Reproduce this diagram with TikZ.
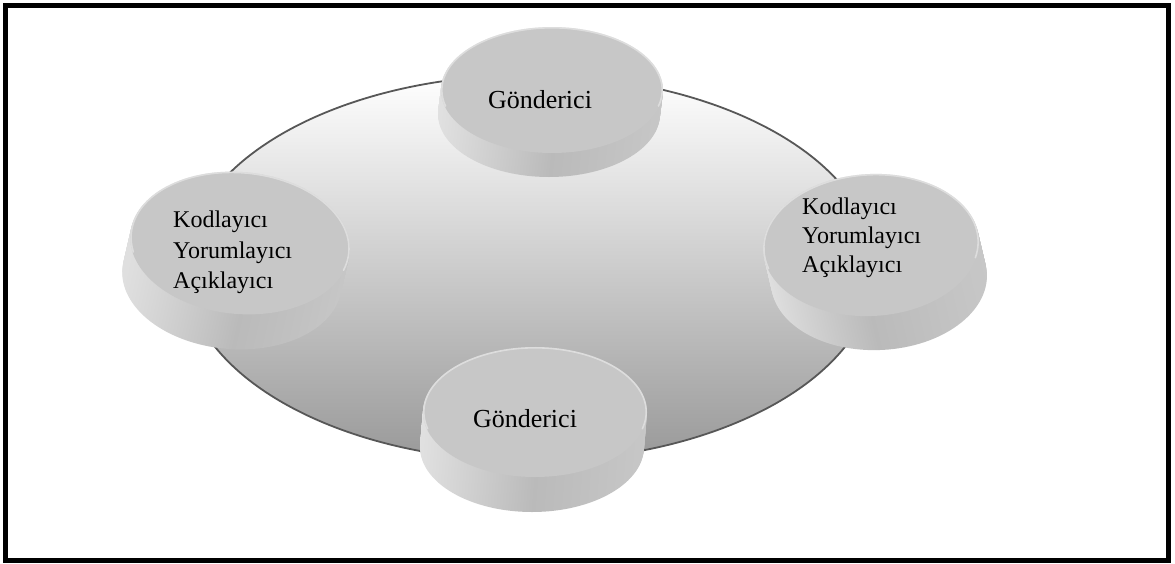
\documentclass[tikz,border=0pt]{standalone}
\usepackage{fontspec}
\setmainfont{Liberation Serif}
\begin{document}
\begin{tikzpicture}[x=1pt,y=-1pt,
  frame/.style={draw=black,line width=5pt},
  ring/.style={shading=axis,top color=white,bottom color=black!40},
  ringline/.style={draw=black!66,line width=1.8pt},
  discside/.style={shading=axis,left color=black!12,right color=black!22,middle color=black!27},
  discface/.style={fill=black!22},
  discrim/.style={draw=white,draw opacity=0.4,line width=1.6pt,line cap=round},
  biglabel/.style={font=\fontsize{26}{31}\selectfont,inner sep=0pt,text=black},
  linelabel/.style={font=\fontsize{24}{29}\selectfont,inner sep=0pt,text=black,anchor=base west}
]
\useasboundingbox (0,0) rectangle (1175,563);

% outer frame
\draw[frame] (5.5,5.5) rectangle (1168.5,560.5);

% shared ring the four discs sit on
\shade[ring] (530,268) ellipse [x radius=345pt, y radius=193pt];
\draw[ringline] (530,268) ellipse [x radius=345pt, y radius=193pt];

% discs: centre x / centre y / x radius / y radius / tilt / side drift / thickness
\foreach \cx/\cy/\rx/\ry/\rot/\dx/\h in
  {552/90/111/63/0/-3/24, 240/243/110/71/-5/-8/35, 871/245/108/71/3/8/34, 535/412/112/65/0/-3/35}{
  \foreach \k in {\h,...,1}{
    \shade[discside, rotate around={\rot:(\cx+\k*\dx/\h,\cy+\k)}]
      (\cx+\k*\dx/\h,\cy+\k) ellipse [x radius=\rx pt, y radius=\ry pt];
  }
  \fill[discface, rotate around={\rot:(\cx,\cy)}] (\cx,\cy) ellipse [x radius=\rx pt, y radius=\ry pt];
  % light bevel along the upper edge of the face
  \draw[discrim, rotate around={\rot:(\cx,\cy)}]
    ([shift={(-15:\rx pt-0.8pt and \ry pt-0.8pt)}]\cx,\cy)
    arc[start angle=-15, end angle=195, x radius=\rx pt-0.8pt, y radius=\ry pt-0.8pt];
}

% labels on the disc faces
\node[biglabel,anchor=base] (senderTop) at (540,108) {Gönderici};
\node[biglabel,anchor=base] (senderBottom) at (525,427) {Gönderici};

\node[linelabel] (leftCoder) at (173,227) {Kodlayıcı};
\node[linelabel] (leftInterp) at (173,258) {Yorumlayıcı};
\node[linelabel] (leftExpl) at (173,288) {Açıklayıcı};

\node[linelabel] (rightCoder) at (802,214) {Kodlayıcı};
\node[linelabel] (rightInterp) at (802,243) {Yorumlayıcı};
\node[linelabel] (rightExpl) at (802,272) {Açıklayıcı};
\end{tikzpicture}
\end{document}
